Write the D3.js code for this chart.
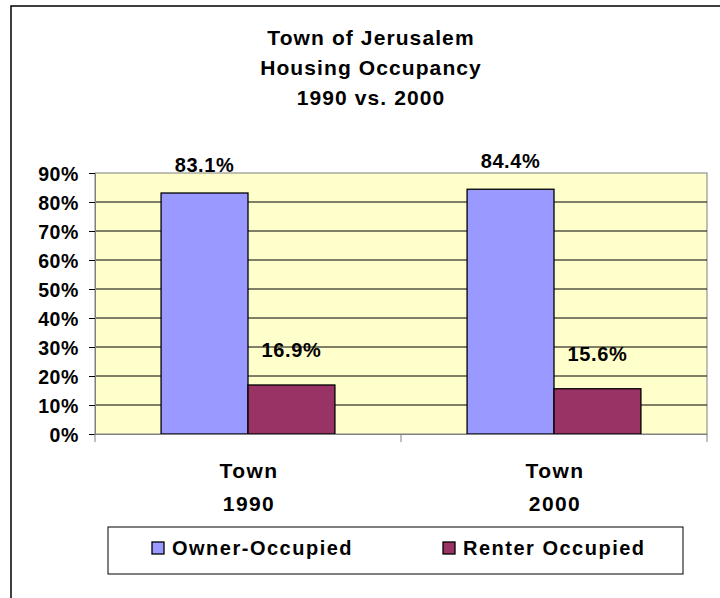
<!DOCTYPE html>
<html>
<head>
<meta charset="utf-8">
<script src="https://cdn.jsdelivr.net/npm/d3@7"></script>
<style>
  body { margin: 0; background: #fff; }
  text { font-family: "Liberation Sans", Arial, sans-serif; font-weight: bold; fill: #000; }
</style>
</head>
<body>
<div id="chart"></div>
<script>
/* values */
var categories = ["Town 1990", "Town 2000"];
var series = ["Owner-Occupied", "Renter Occupied"];
var ownerValues = [83.1, 84.4];
var renterValues = [16.9, 15.6];
var yTicks = [0, 10, 20, 30, 40, 50, 60, 70, 80, 90];
var titleLines = ["Town of Jerusalem", "Housing Occupancy", "1990 vs. 2000"];

var colors = ["#9999ff", "#993366"];
var labelOffset = [21, 28];

var data = categories.map(function(c, i) {
  return {cat: c, values: [ownerValues[i], renterValues[i]]};
});

var W = 720, H = 598;
var plot = {left: 95, right: 707, top: 173, bottom: 434};

var svg = d3.select("#chart")
  .append("svg")
    .attr("width", W)
    .attr("height", H);

// outer chart frame (runs off the right and bottom)
svg.append("rect")
  .attr("x", 11).attr("y", 6)
  .attr("width", 740).attr("height", 620)
  .attr("fill", "#fff")
  .attr("stroke", "#000")
  .attr("stroke-width", 1.5);

// title
svg.append("g").selectAll("text")
  .data(titleLines)
  .enter().append("text")
    .attr("x", 371)
    .attr("y", function(d, i) { return 45 + i * 30; })
    .attr("text-anchor", "middle")
    .style("font-size", "21px")
    .style("letter-spacing", "1.1px")
    .text(function(d) { return d; });

var x0 = d3.scaleBand()
  .domain(categories)
  .range([plot.left, plot.right])
  .padding(0);

var x1 = d3.scaleBand()
  .domain(series)
  .range([0, x0.bandwidth()])
  .paddingInner(0)
  .paddingOuter(0.76);

var y = d3.scaleLinear()
  .domain([0, 90])
  .range([plot.bottom, plot.top]);

// plot background
svg.append("rect")
  .attr("x", plot.left).attr("y", plot.top)
  .attr("width", plot.right - plot.left)
  .attr("height", plot.bottom - plot.top)
  .attr("fill", "#ffffcc")
  .attr("stroke", "#808080")
  .attr("stroke-width", 1);

// gridlines
svg.append("g").selectAll("line")
  .data(yTicks.filter(function(t) { return t > 0 && t < 90; }))
  .enter().append("line")
    .attr("x1", plot.left).attr("x2", plot.right)
    .attr("y1", function(d) { return y(d); })
    .attr("y2", function(d) { return y(d); })
    .attr("stroke", "#000")
    .attr("stroke-width", 1);

// bars
var groups = svg.append("g").selectAll("g")
  .data(data)
  .enter().append("g")
    .attr("transform", function(d) { return "translate(" + x0(d.cat) + ",0)"; });

groups.selectAll("rect")
  .data(function(d) { return d.values.map(function(v, i) { return {s: series[i], v: v, i: i}; }); })
  .enter().append("rect")
    .attr("x", function(d) { return x1(d.s); })
    .attr("y", function(d) { return y(d.v); })
    .attr("width", x1.bandwidth())
    .attr("height", function(d) { return y(0) - y(d.v); })
    .attr("fill", function(d) { return colors[d.i]; })
    .attr("stroke", "#000")
    .attr("stroke-width", 1.3);

groups.selectAll("text.lbl")
  .data(function(d) { return d.values.map(function(v, i) { return {s: series[i], v: v, i: i}; }); })
  .enter().append("text")
    .attr("class", "lbl")
    .attr("x", function(d) { return x1(d.s) + x1.bandwidth() / 2; })
    .attr("y", function(d) { return y(d.v) - labelOffset[d.i]; })
    .attr("text-anchor", "middle")
    .style("font-size", "20px")
    .style("letter-spacing", "0.6px")
    .text(function(d) { return d.v.toFixed(1) + "%"; });

// y axis
var yAxis = svg.append("g")
  .attr("transform", "translate(" + plot.left + ",0)")
  .call(d3.axisLeft(y).tickValues(yTicks).tickSize(6).tickPadding(10)
    .tickFormat(function(d) { return d + "%"; }));
yAxis.select(".domain").attr("stroke", "#808080");
yAxis.selectAll(".tick line").attr("stroke", "#000");
yAxis.selectAll("text")
  .style("font-size", "19.5px")
  .style("letter-spacing", "0.6px")
  .style("font-family", "'Liberation Sans', Arial, sans-serif")
  .attr("dy", "0.36em");

// x axis
var xAxis = svg.append("g")
  .attr("transform", "translate(0," + plot.bottom + ")")
  .call(d3.axisBottom(x0).tickSize(0).tickFormat(""));
xAxis.select(".domain").attr("stroke", "#808080");

svg.append("g").selectAll("line")
  .data(x0.domain().map(function(d) { return x0(d); }).concat([plot.right]))
  .enter().append("line")
    .attr("x1", function(d) { return d; }).attr("x2", function(d) { return d; })
    .attr("y1", plot.bottom).attr("y2", plot.bottom + 8)
    .attr("stroke", "#808080");

var catLabels = svg.append("g").selectAll("text")
  .data(categories)
  .enter().append("text")
    .attr("x", function(d) { return x0(d) + x0.bandwidth() / 2 + 1; })
    .attr("y", 478)
    .attr("text-anchor", "middle")
    .style("font-size", "21px")
    .style("letter-spacing", "1.4px");
catLabels.append("tspan")
  .attr("x", function(d) { return x0(d) + x0.bandwidth() / 2 + 1; })
  .text(function(d) { return d.split(" ")[0]; });
catLabels.append("tspan")
  .attr("x", function(d) { return x0(d) + x0.bandwidth() / 2 + 1; })
  .attr("dy", 33)
  .text(function(d) { return d.split(" ")[1]; });

// legend
var legend = svg.append("g");
legend.append("rect")
  .attr("x", 108).attr("y", 527)
  .attr("width", 575).attr("height", 47)
  .attr("fill", "#fff")
  .attr("stroke", "#000")
  .attr("stroke-width", 1);

var legendX = [152, 443];
var items = legend.selectAll("g")
  .data(series)
  .enter().append("g")
    .attr("transform", function(d, i) { return "translate(" + legendX[i] + ",542)"; });
items.append("rect")
  .attr("width", 12).attr("height", 12)
  .attr("fill", function(d, i) { return colors[i]; })
  .attr("stroke", "#000")
  .attr("stroke-width", 1.3);
items.append("text")
  .attr("x", 20).attr("y", 13)
  .style("font-size", "20px")
  .style("letter-spacing", "1.5px")
  .text(function(d) { return d; });
</script>
</body>
</html>
